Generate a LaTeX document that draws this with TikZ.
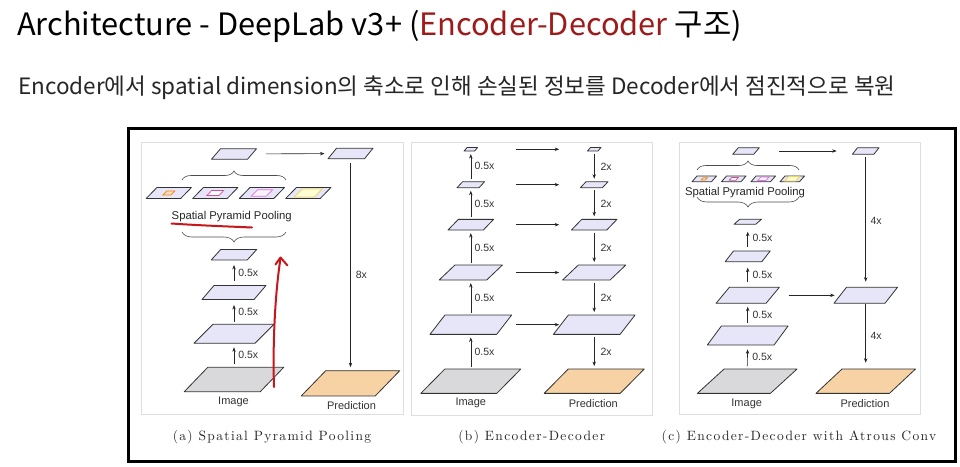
\documentclass[tikz,border=0pt]{standalone}
\usepackage{fontspec}
\usepackage{tikz}
\usetikzlibrary{arrows.meta,decorations.pathreplacing}

\newfontfamily\krfont{Noto Sans CJK KR}
\newfontfamily\lblfont{Liberation Sans}
\newfontfamily\captfont{lmroman10-regular.otf}[LetterSpace=10]

\definecolor{titlered}{HTML}{9E1B1B}
\definecolor{lavfill}{HTML}{E6E6F8}
\definecolor{imgfill}{HTML}{D9D9DB}
\definecolor{predfill}{HTML}{F7D2A4}
\definecolor{penred}{HTML}{C8161D}

% feature map as a slanted plane: [style]{name}{cx}{cy}{width}{height}{slant}
\newcommand{\plane}[7][fmap]{%
  \draw[#1] (#3,#4) ++({-(#5)/2+(#7)/2},{-(#6)/2}) -- ++(#5,0) -- ++(-#7,#6) -- ++(-#5,0) -- cycle;
  \coordinate (#2) at (#3,#4);
  \coordinate (#2-n) at (#3,{#4-(#6)/2});
  \coordinate (#2-s) at (#3,{#4+(#6)/2});
}

\begin{document}
\begin{tikzpicture}[x=1pt,y=-1pt,
    fmap/.style={draw=black!80, fill=lavfill, line width=0.8pt, line join=round},
    imgmap/.style={fmap, fill=imgfill},
    predmap/.style={fmap, fill=predfill},
    sppA/.style={draw=orange!85!brown, fill=orange!25, line width=0.7pt},
    sppB/.style={draw=magenta!60!violet!80, fill=white, line width=0.7pt},
    sppC/.style={draw=violet!45!magenta!55, fill=white!95!violet, line width=0.7pt},
    sppD/.style={draw=yellow!55!brown!70, fill=yellow!18, line width=0.8pt},
    arr/.style={-{Stealth[length=4.5pt,width=3.4pt]}, line width=0.6pt, draw=black!85,
                shorten <=2.5pt, shorten >=3pt},
    numlbl/.style={font=\lblfont\fontsize{10.5}{12}\selectfont, text=black!80, inner sep=1pt},
    maplbl/.style={font=\lblfont\fontsize{11}{13}\selectfont, text=black!80, inner sep=0pt},
    sptext/.style={font=\lblfont\fontsize{11.3}{13}\selectfont, text=black!85, inner sep=0pt},
    capttext/.style={font=\captfont\fontsize{13.5}{15}\selectfont, text=black!85},
    panel/.style={draw=black!13, line width=0.9pt, fill=white},
    upbrace/.style={decorate, decoration={brace, amplitude=9pt}, draw=black!70, line width=0.6pt},
    dnbrace/.style={decorate, decoration={brace, mirror, amplitude=10pt}, draw=black!70, line width=0.6pt},
    redpen/.style={draw=penred, line width=2pt, line cap=round, line join=round}]

    \useasboundingbox[fill=white] (0,0) rectangle (960,466);

    % Title and subtitle
    \node[anchor=base west, inner sep=0pt, font=\krfont\fontsize{30.8}{36}\selectfont] (title) at (17,35)
        {Architecture - DeepLab v3+ (\textcolor{titlered}{Encoder-Decoder} 구조)};
    \node[anchor=base west, inner sep=0pt, text=black!85, font=\krfont\fontsize{22.5}{26}\selectfont] (subtitle) at (18,94)
        {Encoder에서 spatial dimension의 축소로 인해 손실된 정보를 Decoder에서 점진적으로 복원};

    % Frame and panels
    \draw[line width=3pt] (128,128) rectangle (955,461);
    \draw[panel] (141,142) rectangle (403,414);
    \draw[panel] (411,142) rectangle (652,415);
    \draw[panel] (679,142) rectangle (920,414);

    % (a) Spatial Pyramid Pooling
    \plane{a-top}{234}{154}{36}{10.5}{9}
    \plane{a-ptop}{350.5}{153.5}{36.5}{10.5}{8.5}
    \foreach \i/\x in {1/168.8,2/215.3,3/261.9,4/308.3}
        \plane{a-s\i}{\x}{193}{34.5}{11}{10.7};
    \plane[sppA]{a-s1i}{168.8}{193}{8}{4}{3.9}
    \plane[sppB]{a-s2i}{215.3}{193}{12}{5}{4.8}
    \plane[sppC]{a-s3i}{261.9}{193}{15}{6.5}{6.3}
    \plane[sppD]{a-s4i}{308.3}{193}{20}{8}{7.8}
    \draw[upbrace] (182,180) -- (286,180);
    \node[sptext] (a-spp) at (231.7,216.5) {Spatial Pyramid Pooling};
    \draw[dnbrace] (182,232) -- (286,232);
    \plane{a-f3}{234}{254.7}{36}{10.5}{9.5}
    \plane{a-f2}{234}{292.5}{52}{14}{12}
    \plane{a-f1}{234}{333.8}{61}{19}{19}
    \plane[imgmap]{a-img}{234}{379.5}{76}{24.4}{23.5}
    \plane[predmap]{a-pred}{350.5}{383.3}{74}{25.3}{24.5}
    \draw[arr, shorten <=4.5pt, shorten >=5pt] (a-f2-n) -- node[numlbl, right=3pt] {0.5x} (a-f3-s);
    \draw[arr, shorten >=5.5pt] (a-f1-n) -- node[numlbl, right=3pt] {0.5x} (a-f2-s);
    \draw[arr, shorten <=3.3pt, shorten >=4pt] (a-img-n) -- node[numlbl, right=3pt] {0.5x} (a-f1-s);
    \draw[arr, shorten <=32pt, shorten >=26pt] (a-top) -- (a-ptop);
    \draw[arr, shorten <=4pt, shorten >=3.5pt] (a-ptop-s) -- node[numlbl, right=4pt, pos=0.55] {8x} (a-pred-n);
    \node[maplbl] (a-imgtxt) at (233.5,401.5) {Image};
    \node[maplbl] (a-predtxt) at (351.5,405.5) {Prediction};
    \node[capttext] (a-capt) at (272,437) {(a) Spatial Pyramid Pooling};

    % red pen marks
    \draw[redpen] (171.5,223.5) .. controls (200,225.5) and (230,226.5) .. (252,227.5);
    \draw[redpen] (274,387) .. controls (272.5,340) and (275.5,290) .. (280.5,258.5);
    \draw[redpen] (275.5,264.5) -- (280.5,257.5) -- (287.5,265.5);

    % (b) Encoder-Decoder
    \foreach \i/\y/\w/\h/\s in {1/149.3/10.5/3.5/3, 2/184.7/22/6/5.6, 3/224.7/35.3/10.7/10.3,
                                4/272.5/47.5/15/15.8, 5/324.7/66.7/19.3/15} {
        \plane{b-e\i}{470.8}{\y}{\w}{\h}{\s}
        \plane{b-d\i}{594.2}{\y}{\w}{\h}{\s}
    }
    \plane[imgmap]{b-img}{470.8}{381.2}{76}{24.3}{24}
    \plane[predmap]{b-pred}{594.2}{381.2}{76}{24.3}{24}
    \foreach \i/\j in {2/1,3/2,4/3,5/4} {
        \draw[arr] (b-e\i-n) -- node[numlbl, right=2.5pt] {0.5x} (b-e\j-s);
        \draw[arr] (b-d\j-s) -- node[numlbl, right=5pt] {2x} (b-d\i-n);
    }
    \draw[arr] (b-img-n) -- node[numlbl, right=2.5pt] {0.5x} (b-e5-s);
    \draw[arr] (b-d5-s) -- node[numlbl, right=5pt] {2x} (b-pred-n);
    \foreach \i in {1,...,5}
        \draw[arr, shorten <=45pt, shorten >=35pt] (b-e\i) -- (b-d\i);
    \node[maplbl] (b-imgtxt) at (470.8,403.3) {Image};
    \node[maplbl] (b-predtxt) at (593.3,403.3) {Prediction};
    \node[capttext] (b-capt) at (531.7,437) {(b) Encoder-Decoder};

    % (c) Encoder-Decoder with Atrous Conv
    \plane{c-e1}{746}{151}{21}{6.6}{5.6}
    \plane{c-d1}{865.7}{151}{21.5}{6.6}{5.2}
    \draw[arr, shorten <=33pt, shorten >=29pt] (c-e1) -- (c-d1);
    \draw[upbrace] (697,170) -- (799,170);
    \foreach \i/\x in {1/704.3,2/733.8,3/763.3,4/792.3}
        \plane{c-s\i}{\x}{178.8}{19.5}{5.7}{5};
    \plane[sppA]{c-s1i}{704.3}{178.8}{4.4}{2.2}{2}
    \plane[sppB]{c-s2i}{733.8}{178.8}{6.6}{2.7}{2.4}
    \plane[sppC]{c-s3i}{763.3}{178.8}{8.2}{3.5}{3.1}
    \plane[sppD]{c-s4i}{792.3}{178.8}{11}{4.4}{3.9}
    \node[sptext] (c-spp) at (745,192.5) {Spatial Pyramid Pooling};
    \draw[dnbrace] (697,197) -- (799,197);
    \plane{c-e2}{747.7}{221.8}{21.7}{5}{5.7}
    \plane{c-e3}{747.7}{256.3}{36.7}{10.7}{8.3}
    \plane{c-e4}{747.7}{295.3}{50}{16}{13.3}
    \plane{c-e5}{747.7}{335.5}{66.7}{19}{14}
    \plane[imgmap]{c-img}{747.2}{381.2}{73}{24.3}{26.6}
    \plane{c-dm}{865.7}{295.3}{51}{16}{12.5}
    \plane[predmap]{c-pred}{865.7}{381.2}{73.5}{24.3}{26}
    \draw[arr, shorten <=4.3pt, shorten >=7.4pt] (c-e3-n) -- node[numlbl, right=3.5pt] {0.5x} (c-e2-s);
    \draw[arr, shorten <=5.6pt, shorten >=6pt] (c-e4-n) -- node[numlbl, right=3.5pt] {0.5x} (c-e3-s);
    \draw[arr, shorten <=2.7pt, shorten >=3.4pt] (c-e5-n) -- node[numlbl, right=3.5pt] {0.5x} (c-e4-s);
    \draw[arr, shorten <=3pt, shorten >=4.3pt] (c-img-n) -- node[numlbl, right=3.5pt] {0.5x} (c-e5-s);
    \draw[arr, shorten <=41pt, shorten >=31pt] (c-e4) -- (c-dm);
    \draw[arr, shorten <=2.4pt, shorten >=5.6pt] (c-d1-s) -- node[numlbl, right=3.5pt] {4x} (c-dm-n);
    \draw[arr, shorten <=0.5pt, shorten >=6.3pt] (c-dm-s) -- node[numlbl, right=3.5pt] {4x} (c-pred-n);
    \node[maplbl] (c-imgtxt) at (746.7,404.3) {Image};
    \node[maplbl] (c-predtxt) at (865,403.3) {Prediction};
    \node[capttext] (c-capt) at (799,437) {(c) Encoder-Decoder with Atrous Conv};
\end{tikzpicture}
\end{document}
